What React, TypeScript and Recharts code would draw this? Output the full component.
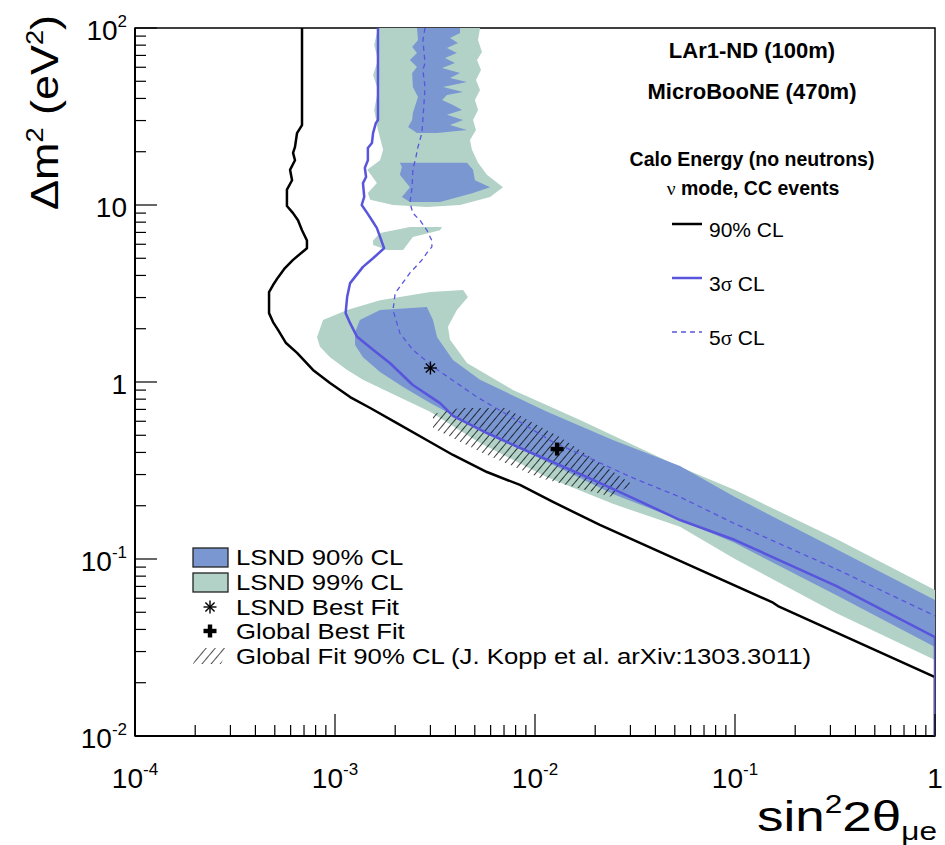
import React from 'react';
import { ComposedChart, Scatter, XAxis, YAxis, ReferenceArea } from 'recharts';

const FONT = '"Liberation Sans", Arial, Helvetica, sans-serif';
const SERIF = '"Liberation Serif", "Times New Roman", serif';

const GREEN = '#b2d2c7';
const BLUE_FILL = '#7a97d2';
const BLUE_LINE = '#5855dc';

// ---- axis ticks / labels ----
const xMajorTicks = [1e-4, 1e-3, 1e-2, 1e-1, 1];
const xMajorLabels = [['10', '-4'], ['10', '-3'], ['10', '-2'], ['10', '-1'], ['1', '']];
const yMajorTicks = [1e-2, 1e-1, 1, 10, 100];
const yMajorLabels = [['10', '-2'], ['10', '-1'], ['1', ''], ['10', ''], ['10', '2']];
const minorMultipliers = [2, 3, 4, 5, 6, 7, 8, 9];

// ---- LSND 99% CL regions ----
const lsnd99Upper = [
  [1.64e-3, 100], [5.31e-3, 100], [5.19e-3, 85.5], [5.43e-3, 73.2], [5.13e-3, 65.9], [5.37e-3, 57.9],
  [5.07e-3, 50.8], [5.31e-3, 44.7], [5.01e-3, 39.2], [5.19e-3, 34.4], [4.9e-3, 30.2], [5.07e-3, 26.5],
  [4.73e-3, 23.3], [4.84e-3, 20.5], [5.19e-3, 17.3], [5.75e-3, 14.8], [6.92e-3, 12.6], [5.96e-3, 11.1],
  [4.22e-3, 10], [2.88e-3, 9.75], [1.95e-3, 10], [1.5e-3, 10.7], [1.46e-3, 11.7], [1.62e-3, 13.3],
  [1.45e-3, 15.8], [1.68e-3, 17.9], [1.74e-3, 20.5], [1.64e-3, 26.5], [1.57e-3, 34.4], [1.64e-3, 44.7],
  [1.55e-3, 54.2], [1.64e-3, 65.9], [1.57e-3, 80.2],
];
const lsnd99Island = [
  [1.55e-3, 6.3], [1.68e-3, 6.95], [2.37e-3, 7.5], [3.43e-3, 7.5], [3.35e-3, 7.2], [2.45e-3, 6.6],
  [2.19e-3, 5.57], [1.82e-3, 5.57], [1.55e-3, 5.94],
];
const lsnd99Band = [
  [8.13e-4, 1.79], [8.71e-4, 2.24], [1.15e-3, 2.55], [1.68e-3, 2.9], [2.99e-3, 3.22], [4.37e-3, 3.31],
  [4.62e-3, 3.02], [4.07e-3, 2.55], [3.67e-3, 2.05], [3.76e-3, 1.73], [4.57e-3, 1.28], [7.76e-3, 0.902],
  [0.0168, 0.61], [0.0531, 0.331], [0.1, 0.245], [0.32, 0.13], [1, 0.0668], [1, 0.0269],
  [0.32, 0.0495], [0.1, 0.1], [0.0531, 0.152], [0.0245, 0.205], [0.0115, 0.29], [5.31e-3, 0.452],
  [2.99e-3, 0.678], [2.04e-3, 0.834], [1.38e-3, 1.03], [1.15e-3, 1.17], [9.44e-4, 1.38], [8.41e-4, 1.58],
];

// ---- LSND 90% CL regions ----
const lsnd90Spikes = [
  [2.57e-3, 100], [4.22e-3, 100], [4.22e-3, 93.7], [3.76e-3, 87.8], [4.12e-3, 82.2], [3.63e-3, 77.1],
  [4.07e-3, 72.2], [3.55e-3, 67.7], [3.98e-3, 63.4], [3.43e-3, 59.4], [4.22e-3, 55.7], [3.76e-3, 52.2],
  [4.57e-3, 49.5], [3.47e-3, 46.4], [4.37e-3, 43.5], [3.63e-3, 41.8], [3.43e-3, 39.2], [3.89e-3, 36.7],
  [4.32e-3, 34.4], [3.63e-3, 32.3], [4.37e-3, 30.2], [3.76e-3, 28.3], [4.57e-3, 26.5], [3.24e-3, 25.5],
  [2.57e-3, 25.5], [2.32e-3, 27.6], [2.43e-3, 30.2], [2.45e-3, 33.1], [2.6e-3, 40.7], [2.45e-3, 46.4],
  [2.43e-3, 55.7], [2.57e-3, 60.2], [2.37e-3, 65.9], [2.57e-3, 72.2], [2.43e-3, 78.1], [2.6e-3, 85.5],
];
const lsnd90Block = [
  [2.11e-3, 17.3], [4.57e-3, 17.3], [4.9e-3, 15.8], [5.01e-3, 13.8], [5.96e-3, 12.6], [4.9e-3, 11.7],
  [3.35e-3, 10.4], [2.37e-3, 10.4], [2.16e-3, 11.1], [2.37e-3, 12.6], [2.11e-3, 14.8], [2.16e-3, 16.4],
];
const lsnd90Band = [
  [1.26e-3, 1.91], [1.33e-3, 2.24], [1.68e-3, 2.55], [2.88e-3, 2.65], [3.09e-3, 2.24], [3.24e-3, 1.79],
  [3.89e-3, 1.33], [5.31e-3, 1.03], [0.0115, 0.678], [0.0245, 0.47], [0.0531, 0.335], [0.1, 0.224],
  [0.32, 0.114], [1, 0.0586], [1, 0.0318], [0.32, 0.0626], [0.1, 0.123], [0.0531, 0.166],
  [0.0245, 0.233], [0.0115, 0.353], [5.31e-3, 0.536], [2.99e-3, 0.76], [2.19e-3, 0.938],
  [1.68e-3, 1.14], [1.38e-3, 1.38], [1.26e-3, 1.62],
];

// ---- Global fit 90% CL (hatched) ----
const globalFit90 = [
  [3.09e-3, 0.659], [4.22e-3, 0.713], [7.08e-3, 0.713], [0.0133, 0.489], [0.0305, 0.265],
  [0.0243, 0.224], [0.0106, 0.287], [5.31e-3, 0.403], [3.09e-3, 0.55],
];

// ---- sensitivity curves ----
const sens90CL = [
  [6.84e-4, 100], [6.84e-4, 28.3], [6.46e-4, 25.5], [6.31e-4, 21.3], [6.17e-4, 19.7], [6.31e-4, 17.9],
  [5.96e-4, 15.8], [6.1e-4, 13.8], [5.75e-4, 12.2], [5.75e-4, 9.87], [6.17e-4, 9.0], [6.53e-4, 8.2],
  [6.84e-4, 7.2], [7.24e-4, 6.3], [7.24e-4, 5.7], [6.17e-4, 4.9], [5.62e-4, 4.4], [5.19e-4, 3.9],
  [4.9e-4, 3.53], [4.68e-4, 3.22], [4.68e-4, 2.45], [4.9e-4, 2.18], [5.19e-4, 1.97], [5.69e-4, 1.66],
  [6.46e-4, 1.46], [7.76e-4, 1.17], [9.44e-4, 0.986], [1.19e-3, 0.822], [1.5e-3, 0.713], [2.04e-3, 0.586],
  [2.99e-3, 0.458], [3.89e-3, 0.387], [5.75e-3, 0.31], [8.41e-3, 0.262], [0.0123, 0.21], [0.0211, 0.156],
  [0.0668, 0.0867], [0.153, 0.0571], [0.164, 0.0542], [1, 0.0215], [1, 0.01],
];
const sens3Sigma = [
  [1.64e-3, 100], [1.64e-3, 30.2], [1.6e-3, 29.0], [1.55e-3, 25.5], [1.53e-3, 22.4], [1.46e-3, 21.0],
  [1.46e-3, 17.9], [1.41e-3, 16.2], [1.43e-3, 14.4], [1.38e-3, 13.3], [1.4e-3, 11.1], [1.36e-3, 10],
  [1.45e-3, 9.0], [1.53e-3, 8.2], [1.62e-3, 7.4], [1.68e-3, 6.6], [1.76e-3, 5.7], [1.55e-3, 5.0],
  [1.38e-3, 4.47], [1.19e-3, 3.62], [1.15e-3, 3.02], [1.13e-3, 2.45], [1.19e-3, 2.15], [1.29e-3, 1.8],
  [1.55e-3, 1.52], [1.88e-3, 1.28], [2.45e-3, 0.962], [3.35e-3, 0.76], [3.89e-3, 0.643],
  [5.75e-3, 0.515], [8.41e-3, 0.424], [0.0123, 0.353], [0.0182, 0.29], [0.0266, 0.239],
  [0.0531, 0.166], [0.1, 0.128], [0.32, 0.0704], [1, 0.0362], [1, 0.01],
];
const sens5Sigma = [
  [2.82e-3, 100], [2.75e-3, 85.5], [2.82e-3, 63.4], [2.75e-3, 57.9], [2.82e-3, 46.4], [2.75e-3, 30.2],
  [2.72e-3, 25.5], [2.6e-3, 21.3], [2.54e-3, 18.7], [2.45e-3, 15.8], [2.43e-3, 12.6], [2.37e-3, 10.3],
  [2.45e-3, 9.0], [2.66e-3, 8.2], [2.88e-3, 7.2], [3.05e-3, 6.3], [3.05e-3, 5.8], [2.88e-3, 5.36],
  [2.72e-3, 4.89], [2.37e-3, 4.13], [2.0e-3, 3.18], [1.95e-3, 2.55], [2.04e-3, 2.15], [2.11e-3, 1.89],
  [2.45e-3, 1.52], [3.09e-3, 1.22], [5.13e-3, 0.822], [8.41e-3, 0.594], [0.0123, 0.458],
  [0.0182, 0.377], [0.0309, 0.287], [0.0531, 0.224], [0.1, 0.158], [0.32, 0.0879], [1, 0.0477],
];

// ---- best fit points ----
const lsndBestFit = [[0.003, 1.2]];
const globalBestFit = [[0.0129, 0.418]];

const toPts = (arr: number[][]) => arr.map(([x, y]) => ({ x, y }));

const xMinor = xMajorTicks.slice(0, -1).flatMap((m) => minorMultipliers.map((k) => +(m * k).toPrecision(6)));
const yMinor = yMajorTicks.slice(0, -1).flatMap((m) => minorMultipliers.map((k) => +(m * k).toPrecision(6)));
const xTicks = [...xMajorTicks, ...xMinor].sort((a, b) => a - b);
const yTicks = [...yMajorTicks, ...yMinor].sort((a, b) => a - b);

const findMajor = (arr: number[], v: number) => arr.findIndex((m) => Math.abs(m - v) / m < 1e-6);

const XTick = (props: any) => {
  const { x, y, payload } = props;
  const i = findMajor(xMajorTicks, payload.value);
  const major = i >= 0;
  return (
    <g>
      <line x1={x} x2={x} y1={y} y2={y - (major ? 22 : 11)} stroke="#000" strokeWidth={1.2} />
      {major && (
        <text x={x} y={y + 52} textAnchor="middle" fontSize={28} fontFamily={FONT} fill="#000">
          <tspan>{xMajorLabels[i][0]}</tspan>
          {xMajorLabels[i][1] && (
            <tspan dy={-13} fontSize={17}>
              {xMajorLabels[i][1]}
            </tspan>
          )}
        </text>
      )}
    </g>
  );
};

const YTick = (props: any) => {
  const { x, y, payload } = props;
  const i = findMajor(yMajorTicks, payload.value);
  const major = i >= 0;
  return (
    <g>
      <line x1={x} x2={x + (major ? 22 : 11)} y1={y} y2={y} stroke="#000" strokeWidth={1.2} />
      {major && (
        <text x={x - 8} y={y + 12} textAnchor="end" fontSize={28} fontFamily={FONT} fill="#000">
          <tspan>{yMajorLabels[i][0]}</tspan>
          {yMajorLabels[i][1] && (
            <tspan dy={-13} fontSize={17}>
              {yMajorLabels[i][1]}
            </tspan>
          )}
        </text>
      )}
    </g>
  );
};

const pathOf = (pts: any[], close: boolean) =>
  pts.map((q, i) => `${i ? 'L' : 'M'}${q.x},${q.y}`).join(' ') + (close ? ' Z' : '');

const polygon = (fill: string) => (p: any) => {
  const pts = p.points || [];
  if (!pts.length) return <g />;
  return <path d={pathOf(pts, true)} fill={fill} stroke="none" />;
};

const hatched = (p: any) => {
  const pts = p.points || [];
  if (!pts.length) return <g />;
  return (
    <g>
      <defs>
        <pattern id="hatchPlot" patternUnits="userSpaceOnUse" width={6} height={6} patternTransform="rotate(40)">
          <line x1={0} y1={0} x2={0} y2={6} stroke="#000" strokeWidth={1.5} />
        </pattern>
      </defs>
      <path d={pathOf(pts, true)} fill="url(#hatchPlot)" stroke="none" />
    </g>
  );
};

const curve = (stroke: string, width: number, dash?: string) => (p: any) => {
  const pts = p.points || [];
  if (!pts.length) return <g />;
  return (
    <path
      d={pathOf(pts, false)}
      fill="none"
      stroke={stroke}
      strokeWidth={width}
      strokeDasharray={dash}
      strokeLinejoin="round"
    />
  );
};

const noShape = () => <g />;

const StarShape = (props: any) => {
  const { cx, cy } = props;
  const r = 6.5;
  const d = r * 0.707;
  return (
    <g stroke="#000" strokeWidth={1.4}>
      <line x1={cx - r} y1={cy} x2={cx + r} y2={cy} />
      <line x1={cx} y1={cy - r} x2={cx} y2={cy + r} />
      <line x1={cx - d} y1={cy - d} x2={cx + d} y2={cy + d} />
      <line x1={cx - d} y1={cy + d} x2={cx + d} y2={cy - d} />
    </g>
  );
};

const CrossShape = (props: any) => {
  const { cx, cy } = props;
  const a = 6.5;
  const t = 2.2;
  return (
    <g fill="#000">
      <rect x={cx - a} y={cy - t} width={2 * a} height={2 * t} />
      <rect x={cx - t} y={cy - a} width={2 * t} height={2 * a} />
    </g>
  );
};

const Overlay = () => {
  const rows = [557, 582, 607, 631, 656];
  const legendTexts = [
    'LSND 90% CL',
    'LSND 99% CL',
    'LSND Best Fit',
    'Global Best Fit',
    'Global Fit 90% CL (J. Kopp et al. arXiv:1303.3011)',
  ];
  return (
    <svg
      width={945}
      height={845}
      style={{ position: 'absolute', left: 0, top: 0, pointerEvents: 'none' }}
    >
      <defs>
        <pattern id="hatchLeg" patternUnits="userSpaceOnUse" width={7} height={7} patternTransform="rotate(40)">
          <line x1={0} y1={0} x2={0} y2={7} stroke="#000" strokeWidth={1.4} />
        </pattern>
      </defs>
      {/* axis titles */}
      <text
        transform="translate(58,15) rotate(-90)"
        textAnchor="end"
        fontSize={38}
        fontFamily={FONT}
        fill="#000"
        textLength={195}
        lengthAdjust="spacingAndGlyphs"
      >
        <tspan>Δm</tspan>
        <tspan dy={-15} fontSize={23}>2</tspan>
        <tspan dy={15}> (eV</tspan>
        <tspan dy={-15} fontSize={23}>2</tspan>
        <tspan dy={15}>)</tspan>
      </text>
      <text
        x={937}
        y={831}
        textAnchor="end"
        fontSize={42}
        fontFamily={FONT}
        fill="#000"
        textLength={180}
        lengthAdjust="spacingAndGlyphs"
      >
        <tspan>sin</tspan>
        <tspan dy={-18} fontSize={25}>2</tspan>
        <tspan dy={18}>2θ</tspan>
        <tspan dy={9} fontSize={25}>μe</tspan>
      </text>

      {/* top-right annotations */}
      <g fontFamily={FONT} fill="#000" fontWeight="bold" textAnchor="middle">
        <text x={752} y={58} fontSize={22}>LAr1-ND (100m)</text>
        <text x={752} y={99} fontSize={22}>MicroBooNE (470m)</text>
        <text x={752} y={166} fontSize={19.5}>Calo Energy (no neutrons)</text>
        <text x={753} y={195} fontSize={19.5}>
          <tspan fontFamily={SERIF} fontWeight="normal">ν</tspan>
          <tspan> mode, CC events</tspan>
        </text>
      </g>
      <g fontFamily={FONT} fill="#000" fontSize={21}>
        <line x1={672} x2={702} y1={224} y2={224} stroke="#000" strokeWidth={2.5} />
        <text x={709} y={237}>90% CL</text>
        <line x1={672} x2={702} y1={278} y2={278} stroke={BLUE_LINE} strokeWidth={2.5} />
        <text x={709} y={291}>
          <tspan>3</tspan>
          <tspan fontFamily={SERIF}>σ</tspan>
          <tspan> CL</tspan>
        </text>
        <line x1={672} x2={702} y1={332} y2={332} stroke={BLUE_LINE} strokeWidth={1.3} strokeDasharray="5 4" />
        <text x={709} y={345}>
          <tspan>5</tspan>
          <tspan fontFamily={SERIF}>σ</tspan>
          <tspan> CL</tspan>
        </text>
      </g>

      {/* bottom-left legend */}
      <rect x={193} y={rows[0] - 9} width={35} height={19} fill={BLUE_FILL} stroke="#222" strokeWidth={1.3} />
      <rect x={193} y={rows[1] - 9} width={35} height={19} fill={GREEN} stroke="#222" strokeWidth={1.3} />
      <StarShape cx={210} cy={rows[2]} />
      <CrossShape cx={210} cy={rows[3]} />
      <path d={`M193,${rows[4] + 8} L200,${rows[4] - 8} L228,${rows[4] - 8} L221,${rows[4] + 8} Z`} fill="url(#hatchLeg)" />
      {legendTexts.map((t, i) => (
        <text
          key={t}
          transform={`translate(236,${rows[i] + 8}) scale(1.17,1)`}
          fontSize={22}
          fontFamily={FONT}
          fill="#000"
        >
          {t}
        </text>
      ))}
    </svg>
  );
};

export default function App() {
  return (
    <div style={{ position: 'absolute', left: 0, top: 0, width: 945, height: 845, background: '#fff' }}>
      <ComposedChart width={945} height={845} margin={{ top: 28, right: 10, bottom: 69, left: 75 }}>
        <XAxis
          type="number"
          dataKey="x"
          scale="log"
          domain={[1e-4, 1]}
          allowDataOverflow
          ticks={xTicks}
          interval={0}
          tick={<XTick />}
          tickLine={false}
          tickSize={0}
          tickMargin={0}
          height={40}
          axisLine={{ stroke: '#000', strokeWidth: 2 }}
        />
        <YAxis
          type="number"
          dataKey="y"
          scale="log"
          domain={[0.01, 100]}
          allowDataOverflow
          ticks={yTicks}
          interval={0}
          tick={<YTick />}
          tickLine={false}
          tickSize={0}
          tickMargin={0}
          width={60}
          axisLine={{ stroke: '#000', strokeWidth: 2 }}
        />
        <Scatter name="LSND 99% upper" data={toPts(lsnd99Upper)} line={polygon(GREEN)} lineType="joint" shape={noShape} isAnimationActive={false} />
        <Scatter name="LSND 99% island" data={toPts(lsnd99Island)} line={polygon(GREEN)} lineType="joint" shape={noShape} isAnimationActive={false} />
        <Scatter name="LSND 99% band" data={toPts(lsnd99Band)} line={polygon(GREEN)} lineType="joint" shape={noShape} isAnimationActive={false} />
        <Scatter name="LSND 90% spikes" data={toPts(lsnd90Spikes)} line={polygon(BLUE_FILL)} lineType="joint" shape={noShape} isAnimationActive={false} />
        <Scatter name="LSND 90% block" data={toPts(lsnd90Block)} line={polygon(BLUE_FILL)} lineType="joint" shape={noShape} isAnimationActive={false} />
        <Scatter name="LSND 90% band" data={toPts(lsnd90Band)} line={polygon(BLUE_FILL)} lineType="joint" shape={noShape} isAnimationActive={false} />
        <Scatter name="Global fit 90%" data={toPts(globalFit90)} line={hatched} lineType="joint" shape={noShape} isAnimationActive={false} />
        <Scatter name="90% CL" data={toPts(sens90CL)} line={curve('#000', 2.5)} lineType="joint" shape={noShape} isAnimationActive={false} />
        <Scatter name="5 sigma CL" data={toPts(sens5Sigma)} line={curve(BLUE_LINE, 1.3, '5 4')} lineType="joint" shape={noShape} isAnimationActive={false} />
        <Scatter name="3 sigma CL" data={toPts(sens3Sigma)} line={curve(BLUE_LINE, 2.5)} lineType="joint" shape={noShape} isAnimationActive={false} />
        <Scatter name="LSND best fit" data={toPts(lsndBestFit)} shape={StarShape} isAnimationActive={false} />
        <Scatter name="Global best fit" data={toPts(globalBestFit)} shape={CrossShape} isAnimationActive={false} />
        <ReferenceArea x1={1e-4} x2={1} y1={0.01} y2={100} fill="none" stroke="#000" strokeWidth={1.5} ifOverflow="visible" />
      </ComposedChart>
      <Overlay />
    </div>
  );
}
